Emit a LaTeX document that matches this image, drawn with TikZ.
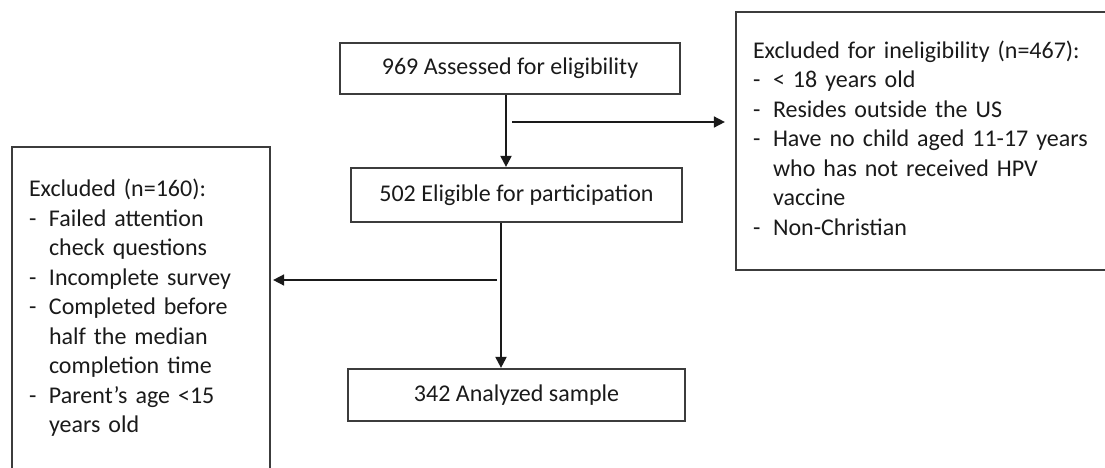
\documentclass[tikz,border=0pt]{standalone}
\usepackage{fontspec}
\setmainfont{Carlito}
\usepackage{xcolor}
\usetikzlibrary{positioning,arrows.meta}
\definecolor{ink}{HTML}{1A1A1A}
\definecolor{frame}{HTML}{3C3C3C}
\newcommand{\exlist}[1]{\begin{tabular}{@{}p{20pt}@{}l@{}}#1\end{tabular}}

\begin{document}
\begin{tikzpicture}[x=1pt,y=-1pt,font=\fontsize{24}{29.5}\selectfont,text=ink,
     stage/.style={draw=frame,line width=2.2pt,inner sep=0pt},
     exbox/.style={draw=frame,line width=2.2pt,inner xsep=17pt,inner ysep=0pt,align=left},
     flow/.style={draw=ink,line width=2pt,-{Triangle[length=11pt,width=11pt]}},
     side/.style={draw=ink,line width=1.6pt,-{Triangle[length=11pt,width=11pt]}}]
    \useasboundingbox (0,0) rectangle (1105,467);
    \clip (0,0) rectangle (1105,467);
    \node[stage,minimum width=340pt,minimum height=51pt](assessed) at (510,68.5){969 Assessed for eligibility};
    \node[stage,minimum width=331pt,minimum height=54pt](eligible) at (516.5,195){502 Eligible for participation};
    \node[stage,minimum width=337pt,minimum height=52pt](analyzed) at (516.5,395){342 Analyzed sample};
    \node[exbox,minimum width=381pt,minimum height=258pt,text width=347pt](inelig) at (926.5,141){\exlist{%
      \multicolumn{2}{@{}l@{}}{Excluded for ineligibility (n=467):}\\
      - & < 18 years old\\
      - & Resides outside the US\\
      - & Have no child aged 11-17 years\\
        & who has not received HPV\\
        & vaccine\\
      - & Non-Christian}};
    \node[exbox,minimum width=258pt,minimum height=324pt,text width=224pt](dropped) at (141,309){\exlist{%
      \multicolumn{2}{@{}l@{}}{Excluded (n=160):}\\
      - & Failed attention\\
        & check questions\\
      - & Incomplete survey\\
      - & Completed before\\
        & half the median\\
        & completion time\\
      - & Parent’s age <15\\
        & years old}};
    \coordinate (br1) at (512,122);
    \coordinate (br2) at (497,280);
    \draw[flow](506,0 |- assessed.south)--(506,0 |- eligible.north);
    \draw[flow](501,0 |- eligible.south)--(501,0 |- analyzed.north);
    \draw[side,shorten >=10pt](br1)--(br1 -| inelig.west);
    \draw[side,shorten >=2pt](br2)--(br2 -| dropped.east);
  \end{tikzpicture}
\end{document}
